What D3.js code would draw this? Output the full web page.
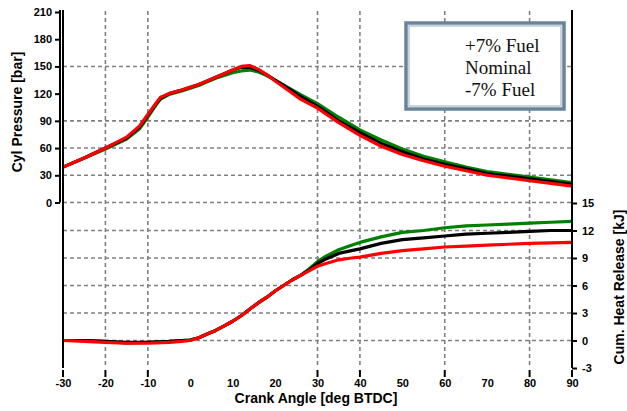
<!DOCTYPE html>
<html><head><meta charset="utf-8">
<script src="https://cdn.jsdelivr.net/npm/d3@7"></script>
<style>
html,body{margin:0;padding:0;background:#fff;}
svg{display:block;}
</style></head>
<body>
<script>
// ---------- data ----------
const pAngles = [-30,-25,-20,-15,-12,-10,-8,-7,-5,-2,0,2,4,6,8,10,12,14,16,18,20,23,26,30,35,40,45,50,55,60,65,70,75,80,85,90];
const pPlus   = [39,49,59,70,81,94,108,114,119,123,126,129,133,137,140,143,145,146,144,140,135,127,119,109,94,80,69,59,51,45,39,34,31,28,25,22];
const pNom    = [39,49,60,71,83,96,109,115,120,124,127,130,134,138,142,146,149,149,146,141,135,126,117,106,90,77,65,56,48,42,37,32,29,26,23,20];
const pMinus  = [39,49,60,72,84,97,110,116,120,124,127,130,134,138,142,146,150,151,147,141,134,124,114,104,88,74,62,53,46,40,35,30,27,24,21,18];

const hAngles = [-30,-25,-20,-15,-10,-5,-2,0,2,4,6,8,10,12,14,16,18,20,22,24,26,28,30,32,35,38,40,45,50,55,60,65,70,75,80,85,90];
const hPlus   = [0,0,-0.1,-0.3,-0.2,-0.1,0,0.05,0.3,0.7,1.1,1.6,2.1,2.7,3.4,4.1,4.7,5.4,6.0,6.6,7.1,7.8,8.6,9.2,9.9,10.4,10.7,11.3,11.8,12.0,12.3,12.5,12.6,12.7,12.8,12.9,13.0];
const hNom    = [0,0,-0.1,-0.2,-0.2,-0.1,0,0.05,0.3,0.7,1.1,1.6,2.1,2.7,3.4,4.1,4.7,5.4,6.0,6.6,7.1,7.7,8.4,8.9,9.5,9.8,10.0,10.6,11.0,11.2,11.4,11.6,11.7,11.8,11.9,12.0,12.0];
const hMinus  = [0,-0.1,-0.2,-0.3,-0.3,-0.2,-0.1,0,0.3,0.7,1.1,1.6,2.1,2.7,3.4,4.1,4.7,5.4,6.0,6.6,7.1,7.6,8.1,8.4,8.8,9.0,9.1,9.5,9.8,10.0,10.2,10.3,10.4,10.5,10.6,10.65,10.7];

const xTicks = [-30,-20,-10,0,10,20,30,40,50,60,70,80,90];
const xGrid  = [-20,-10,30,40,60,80];
const pTicks = [0,30,60,90,120,150,180,210];
const pGrid  = [0,30,60,90,150];
const hTicks = [-3,0,3,6,9,12,15];
const hGrid  = [0,3,6,9,12];
const legendLabels = ["+7% Fuel","Nominal","-7% Fuel"];
const seriesColors = ["#008000","#000000","#ff0000"];

// ---------- chart ----------
const W = 627, H = 411;
const SANS = "'Liberation Sans', Arial, sans-serif";
const SERIF = "'Liberation Serif', 'Times New Roman', serif";
const svg = d3.select("body").append("svg").attr("width", W).attr("height", H);
svg.append("rect").attr("width", W).attr("height", H).attr("fill", "#fff");

const x  = d3.scaleLinear().domain([-30, 90]).range([63, 572]);
const yP = d3.scaleLinear().domain([0, 210]).range([202.5, 12]);
const yH = d3.scaleLinear().domain([-3, 15]).range([368, 203]);
const fmt = d => String(d);

const gridG = svg.append("g").attr("stroke", "#808080").attr("stroke-width", 1.6)
  .attr("stroke-dasharray", "4,3").attr("fill", "none");
gridG.selectAll("line.v").data(xGrid).join("line").attr("class","v")
  .attr("x1", d => x(d)).attr("x2", d => x(d)).attr("y1", 11).attr("y2", 368);
gridG.selectAll("line.hp").data(pGrid).join("line").attr("class","hp")
  .attr("x1", x(-30)).attr("x2", x(90)).attr("y1", d => yP(d)).attr("y2", d => yP(d));
gridG.selectAll("line.hh").data(hGrid).join("line").attr("class","hh")
  .attr("x1", x(-30)).attr("x2", x(90)).attr("y1", d => yH(d)).attr("y2", d => yH(d));

// curves
const lineP = d3.line().x((d,i) => x(pAngles[i])).y(d => yP(d));
const lineH = d3.line().x((d,i) => x(hAngles[i])).y(d => yH(d));
const curveG = svg.append("g").attr("fill", "none").attr("stroke-width", 3.2)
  .attr("stroke-linejoin", "round");
[pPlus, pNom, pMinus].forEach((s, k) => {
  curveG.append("path").attr("d", lineP(s)).attr("stroke", seriesColors[k]);
});
[hPlus, hNom, hMinus].forEach((s, k) => {
  curveG.append("path").attr("d", lineH(s)).attr("stroke", seriesColors[k]);
});

// spines
const spine = svg.append("g").attr("stroke", "#000").attr("stroke-width", 2);
spine.append("line").attr("x1", x(-30)).attr("x2", x(-30)).attr("y1", 10).attr("y2", 368);
spine.append("line").attr("x1", x(90)).attr("x2", x(90)).attr("y1", 10).attr("y2", 368);

function styleText(g) {
  g.selectAll("text").attr("font-size", 11).attr("font-weight", "bold").attr("fill", "#000")
    .style("font-family", SANS);
}

// left pressure axis
const axL = svg.append("g").attr("transform", "translate(60,0)")
  .call(d3.axisLeft(yP).tickValues(pTicks).tickFormat(fmt).tickSize(5).tickSizeOuter(0).tickPadding(3));
axL.select(".domain").attr("stroke-width", 2).attr("d", `M0,${yP(0)}V10`);
axL.selectAll(".tick line").attr("stroke-width", 2);
styleText(axL);

// right heat-release axis
const axR = svg.append("g").attr("transform", `translate(${x(90)},0)`)
  .call(d3.axisRight(yH).tickValues(hTicks).tickFormat(fmt).tickSize(5).tickSizeOuter(0).tickPadding(5));
axR.select(".domain").remove();
axR.selectAll(".tick line").attr("stroke-width", 2);
styleText(axR);

// bottom axis
const axB = svg.append("g").attr("transform", "translate(0,370)")
  .call(d3.axisBottom(x).tickValues(xTicks).tickFormat(fmt).tickSize(0).tickSizeOuter(0).tickPadding(9));
axB.select(".domain").remove();
styleText(axB);
svg.append("g").attr("stroke", "#000").attr("stroke-width", 2)
  .selectAll("line").data([-30].concat(xGrid, [90])).join("line")
  .attr("x1", d => x(d)).attr("x2", d => x(d)).attr("y1", 370).attr("y2", 377);

// axis titles
function title(sel) {
  return sel.attr("text-anchor", "middle").attr("font-size", 14).attr("font-weight", "bold")
    .style("font-family", SANS);
}
title(svg.append("text").attr("transform", "translate(22,112) rotate(-90)")).text("Cyl Pressure [bar]");
title(svg.append("text").attr("x", 316).attr("y", 403)).text("Crank Angle [deg BTDC]");
title(svg.append("text").attr("transform", "translate(624,287) rotate(-90)")).text("Cum. Heat Release [kJ]");

// legend
const lg = svg.append("g");
lg.append("rect").attr("x", 406).attr("y", 23).attr("width", 158).attr("height", 86)
  .attr("fill", "#fff").attr("stroke", "#6a8399").attr("stroke-width", 3.5);
lg.append("rect").attr("x", 409).attr("y", 26).attr("width", 152).attr("height", 80)
  .attr("fill", "none").attr("stroke", "#b9c6d2").attr("stroke-width", 1.5);
lg.selectAll("text").data(legendLabels).join("text")
  .attr("x", 465).attr("y", (d,i) => 52 + i * 22)
  .style("font-family", SERIF)
  .attr("font-size", 19).attr("fill", "#111").text(d => d);
</script>
</body></html>
